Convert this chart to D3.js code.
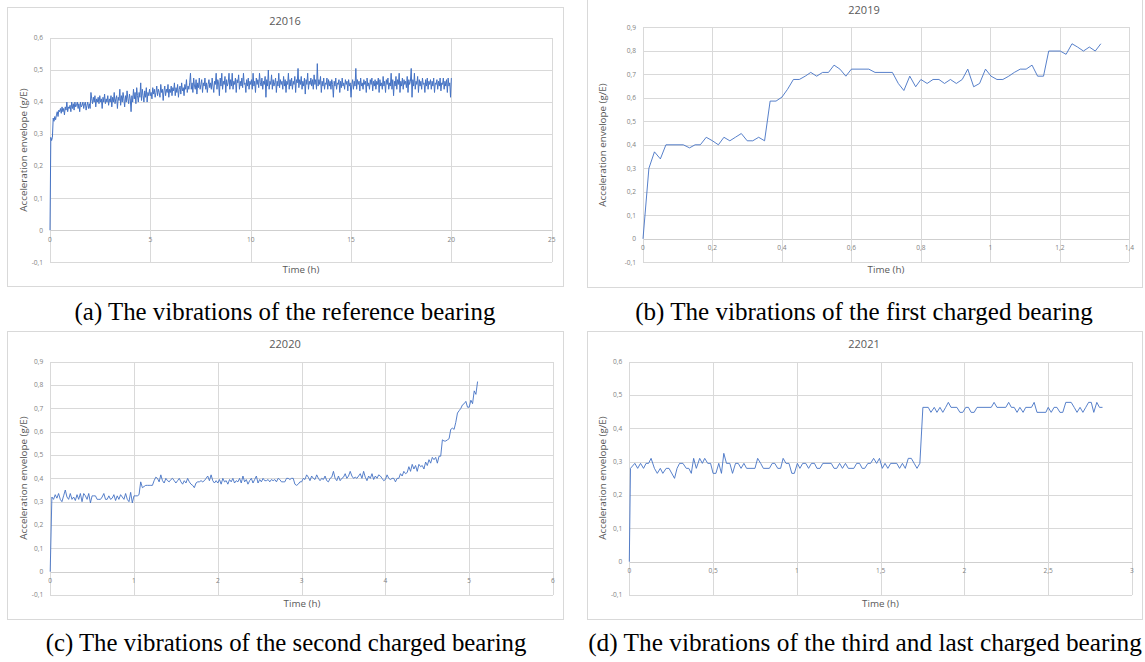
<!DOCTYPE html>
<html>
<head>
<meta charset="utf-8">
<script src="https://cdn.jsdelivr.net/npm/d3@7"></script>
<style>
  html, body { margin: 0; padding: 0; background: #fff; }
  svg { display: block; }
</style>
</head>
<body>
<svg id="fig" width="1145" height="662"></svg>
<script>
// ---------------------------------------------------------------
// Acceleration envelope (g/E) logged over time for four bearings
// ---------------------------------------------------------------

// 22016 (reference bearing): fixed logging interval, values in g/E
const ref22016StepH = 0.04;
const ref22016Values = [
  0, 0.29, 0.28, 0.29, 0.35, 0.34, 0.355, 0.345, 0.36, 0.37, 0.355, 0.375, 0.37, 0.38, 0.365, 0.385, 0.37, 0.38, 0.36, 0.385, 0.375, 0.40, 0.37, 0.385, 0.38,
  0.39, 0.37, 0.40, 0.38, 0.395, 0.375, 0.40, 0.385, 0.39, 0.40, 0.38, 0.395, 0.37, 0.40, 0.385, 0.39, 0.40, 0.38, 0.395, 0.40, 0.375, 0.39, 0.40, 0.38, 0.395,
  0.38, 0.43, 0.41, 0.395, 0.415, 0.40, 0.42, 0.385, 0.41, 0.40, 0.415, 0.395, 0.42, 0.40, 0.41, 0.38, 0.415, 0.40, 0.425, 0.395, 0.41, 0.40, 0.42, 0.39, 0.41,
  0.40, 0.42, 0.385, 0.415, 0.40, 0.43, 0.395, 0.41, 0.42, 0.38, 0.415, 0.405, 0.44, 0.39, 0.42, 0.40, 0.43, 0.41, 0.385, 0.42, 0.40, 0.435, 0.41, 0.395, 0.425,
  0.41, 0.37, 0.42, 0.40, 0.44, 0.41, 0.43, 0.395, 0.445, 0.42, 0.40, 0.43, 0.415, 0.46, 0.405, 0.44, 0.42, 0.40, 0.435, 0.415, 0.445, 0.40, 0.43, 0.42, 0.44,
  0.42, 0.43, 0.41, 0.445, 0.425, 0.44, 0.415, 0.43, 0.45, 0.42, 0.44, 0.43, 0.415, 0.455, 0.43, 0.44, 0.405, 0.435, 0.45, 0.42, 0.44, 0.43, 0.455, 0.415, 0.44,
  0.43, 0.45, 0.42, 0.445, 0.435, 0.46, 0.42, 0.445, 0.43, 0.455, 0.415, 0.44, 0.45, 0.425, 0.46, 0.435, 0.445, 0.42, 0.455, 0.44, 0.47, 0.43, 0.45, 0.44, 0.46,
  0.49, 0.44, 0.46, 0.43, 0.475, 0.45, 0.44, 0.47, 0.425, 0.46, 0.445, 0.475, 0.44, 0.455, 0.47, 0.43, 0.46, 0.45, 0.475, 0.44, 0.46, 0.43, 0.455, 0.47, 0.445,
  0.46, 0.44, 0.475, 0.45, 0.43, 0.465, 0.455, 0.49, 0.44, 0.47, 0.46, 0.42, 0.475, 0.45, 0.49, 0.44, 0.465, 0.455, 0.48, 0.43, 0.47, 0.45, 0.46, 0.49, 0.44,
  0.47, 0.45, 0.49, 0.44, 0.465, 0.455, 0.475, 0.43, 0.47, 0.46, 0.485, 0.44, 0.465, 0.45, 0.475, 0.445, 0.49, 0.455, 0.46, 0.43, 0.47, 0.45, 0.475, 0.44, 0.465,
  0.455, 0.47, 0.44, 0.49, 0.45, 0.465, 0.43, 0.475, 0.455, 0.47, 0.445, 0.49, 0.46, 0.45, 0.475, 0.44, 0.465, 0.455, 0.48, 0.415, 0.47, 0.45, 0.50, 0.44, 0.465,
  0.455, 0.485, 0.44, 0.47, 0.45, 0.46, 0.475, 0.43, 0.465, 0.45, 0.49, 0.445, 0.47, 0.455, 0.465, 0.44, 0.48, 0.45, 0.47, 0.43, 0.465, 0.455, 0.49, 0.44, 0.47,
  0.45, 0.475, 0.44, 0.465, 0.455, 0.48, 0.43, 0.47, 0.46, 0.505, 0.445, 0.47, 0.455, 0.48, 0.44, 0.465, 0.45, 0.475, 0.425, 0.47, 0.455, 0.49, 0.44, 0.465, 0.455,
  0.475, 0.45, 0.47, 0.44, 0.485, 0.455, 0.47, 0.44, 0.52, 0.45, 0.47, 0.455, 0.48, 0.43, 0.465, 0.45, 0.475, 0.44, 0.46, 0.455, 0.475, 0.44, 0.47, 0.45, 0.465,
  0.44, 0.47, 0.455, 0.415, 0.465, 0.45, 0.475, 0.44, 0.46, 0.455, 0.47, 0.43, 0.465, 0.445, 0.475, 0.45, 0.46, 0.44, 0.47, 0.455, 0.465, 0.435, 0.47, 0.45, 0.46,
  0.415, 0.455, 0.47, 0.44, 0.465, 0.45, 0.505, 0.44, 0.47, 0.455, 0.465, 0.435, 0.475, 0.45, 0.46, 0.44, 0.47, 0.455, 0.465, 0.43, 0.475, 0.45, 0.46, 0.44, 0.47,
  0.455, 0.475, 0.435, 0.465, 0.45, 0.47, 0.44, 0.465, 0.455, 0.475, 0.43, 0.47, 0.45, 0.46, 0.44, 0.48, 0.45, 0.465, 0.43, 0.47, 0.455, 0.475, 0.44, 0.46, 0.45,
  0.49, 0.44, 0.47, 0.42, 0.465, 0.45, 0.48, 0.44, 0.47, 0.455, 0.49, 0.43, 0.465, 0.45, 0.475, 0.44, 0.47, 0.455, 0.465, 0.445, 0.48, 0.43, 0.47, 0.455, 0.465,
  0.505, 0.415, 0.47, 0.45, 0.49, 0.44, 0.465, 0.455, 0.48, 0.43, 0.47, 0.45, 0.465, 0.44, 0.475, 0.455, 0.46, 0.43, 0.47, 0.45, 0.475, 0.44, 0.465, 0.455, 0.47,
  0.44, 0.465, 0.45, 0.475, 0.43, 0.46, 0.455, 0.47, 0.44, 0.465, 0.45, 0.475, 0.435, 0.46, 0.455, 0.475, 0.44, 0.465, 0.45, 0.47, 0.43, 0.475, 0.45, 0.46, 0.415,
  0.475
];

// 22019 (first charged bearing): [time h, g/E]
const run22019 = [
  [0,0],[0.017,0.30],[0.033,0.37],[0.05,0.34],[0.066,0.40],[0.116,0.40],[0.134,0.387],[0.15,0.40],[0.165,0.40],
  [0.182,0.432],[0.2,0.417],[0.217,0.40],[0.233,0.432],[0.25,0.417],[0.266,0.432],[0.283,0.448],[0.3,0.417],
  [0.316,0.417],[0.333,0.432],[0.35,0.417],[0.366,0.586],[0.383,0.586],[0.4,0.603],[0.416,0.636],[0.433,0.678],
  [0.45,0.678],[0.467,0.692],[0.483,0.708],[0.5,0.692],[0.517,0.708],[0.534,0.708],[0.55,0.739],[0.567,0.722],
  [0.584,0.692],[0.6,0.722],[0.65,0.722],[0.668,0.708],[0.718,0.708],[0.735,0.661],[0.751,0.631],[0.768,0.692],
  [0.785,0.647],[0.8,0.678],[0.818,0.661],[0.835,0.678],[0.852,0.678],[0.868,0.661],[0.885,0.678],[0.902,0.661],
  [0.919,0.678],[0.935,0.722],[0.952,0.647],[0.969,0.661],[0.986,0.722],[1.002,0.692],[1.019,0.678],[1.036,0.678],
  [1.053,0.692],[1.069,0.708],[1.086,0.722],[1.103,0.722],[1.12,0.739],[1.136,0.692],[1.153,0.692],[1.168,0.799],
  [1.201,0.799],[1.218,0.785],[1.235,0.830],[1.251,0.816],[1.268,0.799],[1.285,0.816],[1.302,0.799],[1.318,0.830]
];

// 22020 (second charged bearing): fixed logging interval, values in g/E
const run22020StepH = 0.02;
const run22020Values = [
  0, 0.32, 0.31, 0.33, 0.315, 0.335, 0.31, 0.30, 0.325, 0.35, 0.32, 0.31, 0.335, 0.31, 0.32, 0.305, 0.33, 0.31, 0.335, 0.30, 0.335, 0.325, 0.31, 0.335, 0.295,
  0.325, 0.325, 0.325, 0.31, 0.31, 0.31, 0.32, 0.335, 0.31, 0.31, 0.325, 0.31, 0.315, 0.33, 0.305, 0.325, 0.31, 0.33, 0.32, 0.31, 0.335, 0.31, 0.30, 0.34, 0.295,
  0.325, 0.325, 0.325, 0.33, 0.385, 0.36, 0.365, 0.37, 0.37, 0.37, 0.37, 0.37, 0.39, 0.405, 0.40, 0.385, 0.415, 0.39, 0.38, 0.40, 0.39, 0.385, 0.395, 0.40, 0.39,
  0.38, 0.39, 0.40, 0.385, 0.375, 0.39, 0.38, 0.40, 0.385, 0.375, 0.37, 0.36, 0.38, 0.385, 0.385, 0.39, 0.385, 0.39, 0.40, 0.41, 0.39, 0.415, 0.39, 0.38, 0.39,
  0.38, 0.395, 0.375, 0.40, 0.385, 0.39, 0.375, 0.395, 0.385, 0.40, 0.38, 0.39, 0.385, 0.40, 0.38, 0.41, 0.385, 0.395, 0.375, 0.39, 0.40, 0.38, 0.395, 0.41, 0.38,
  0.395, 0.385, 0.40, 0.39, 0.39, 0.395, 0.385, 0.395, 0.39, 0.395, 0.385, 0.40, 0.395, 0.385, 0.385, 0.385, 0.40, 0.40, 0.395, 0.40, 0.40, 0.375, 0.37, 0.375, 0.385,
  0.385, 0.40, 0.395, 0.415, 0.405, 0.39, 0.41, 0.40, 0.395, 0.415, 0.40, 0.39, 0.40, 0.395, 0.41, 0.39, 0.385, 0.40, 0.405, 0.43, 0.40, 0.39, 0.41, 0.39, 0.40,
  0.405, 0.42, 0.40, 0.41, 0.43, 0.41, 0.40, 0.405, 0.40, 0.41, 0.42, 0.40, 0.43, 0.405, 0.39, 0.41, 0.40, 0.42, 0.395, 0.41, 0.40, 0.415, 0.41, 0.40, 0.39,
  0.395, 0.415, 0.40, 0.395, 0.40, 0.40, 0.385, 0.40, 0.40, 0.42, 0.41, 0.43, 0.42, 0.425, 0.45, 0.43, 0.46, 0.44, 0.455, 0.43, 0.46, 0.45, 0.455, 0.44, 0.47,
  0.455, 0.48, 0.465, 0.49, 0.48, 0.49, 0.465, 0.495, 0.495, 0.565, 0.56, 0.56, 0.565, 0.57, 0.61, 0.615, 0.61, 0.64, 0.68, 0.69, 0.70, 0.715, 0.72, 0.73, 0.705,
  0.705, 0.735, 0.72, 0.775, 0.76, 0.815
];

// 22021 (third and last charged bearing): [time h, g/E]
const run22021 = [
  [0,0],[0.007,0.28],[0.033,0.295],[0.05,0.28],[0.067,0.295],[0.085,0.28],[0.1,0.295],[0.115,0.295],[0.13,0.31],
  [0.15,0.28],[0.167,0.265],[0.185,0.28],[0.2,0.265],[0.22,0.28],[0.237,0.28],[0.27,0.25],[0.285,0.28],[0.3,0.295],
  [0.32,0.295],[0.34,0.28],[0.355,0.28],[0.37,0.265],[0.384,0.31],[0.4,0.28],[0.42,0.31],[0.436,0.295],[0.45,0.31],
  [0.468,0.295],[0.485,0.295],[0.5,0.265],[0.517,0.265],[0.534,0.295],[0.55,0.265],[0.564,0.325],[0.58,0.295],
  [0.6,0.295],[0.616,0.265],[0.634,0.295],[0.65,0.295],[0.667,0.28],[0.684,0.295],[0.7,0.28],[0.75,0.28],[0.766,0.31],
  [0.784,0.295],[0.8,0.28],[0.836,0.28],[0.853,0.295],[0.868,0.295],[0.886,0.28],[0.903,0.28],[0.918,0.31],[0.935,0.295],
  [0.953,0.295],[0.97,0.265],[0.985,0.265],[1.003,0.295],[1.018,0.28],[1.035,0.295],[1.053,0.295],[1.07,0.28],
  [1.087,0.295],[1.105,0.295],[1.12,0.28],[1.138,0.28],[1.155,0.295],[1.205,0.295],[1.222,0.28],[1.238,0.28],
  [1.255,0.295],[1.272,0.28],[1.29,0.295],[1.307,0.28],[1.34,0.28],[1.357,0.295],[1.374,0.295],[1.39,0.28],[1.405,0.28],
  [1.424,0.295],[1.44,0.295],[1.458,0.31],[1.476,0.295],[1.493,0.31],[1.51,0.28],[1.526,0.295],[1.543,0.28],[1.56,0.295],
  [1.596,0.295],[1.613,0.28],[1.63,0.295],[1.647,0.28],[1.665,0.31],[1.683,0.31],[1.7,0.295],[1.717,0.28],[1.734,0.295],
  [1.752,0.463],[1.784,0.463],[1.8,0.448],[1.82,0.463],[1.836,0.448],[1.854,0.463],[1.871,0.448],[1.888,0.463],
  [1.904,0.478],[1.92,0.463],[1.955,0.463],[1.973,0.448],[1.99,0.448],[2.008,0.463],[2.024,0.463],[2.04,0.448],
  [2.058,0.448],[2.075,0.463],[2.16,0.463],[2.177,0.478],[2.194,0.463],[2.247,0.463],[2.264,0.478],[2.28,0.463],
  [2.297,0.463],[2.314,0.448],[2.331,0.463],[2.35,0.448],[2.366,0.463],[2.4,0.463],[2.416,0.478],[2.433,0.448],
  [2.486,0.448],[2.5,0.463],[2.518,0.448],[2.535,0.463],[2.552,0.463],[2.57,0.448],[2.587,0.448],[2.605,0.478],
  [2.637,0.478],[2.655,0.463],[2.672,0.448],[2.69,0.463],[2.707,0.448],[2.724,0.463],[2.741,0.478],[2.757,0.478],
  [2.772,0.448],[2.79,0.478],[2.806,0.463],[2.824,0.463]
];

const chartTitles = ["22016", "22019", "22020", "22021"];
const captions = [
  "(a) The vibrations of the reference bearing",
  "(b) The vibrations of the first charged bearing",
  "(c) The vibrations of the second charged bearing",
  "(d) The vibrations of the third and last charged bearing"
];
const xAxisTitle = "Time (h)";
const yAxisTitle = "Acceleration envelope (g/E)";
const xTickSteps = [5, 0.2, 1, 0.5];
const xMaxima = [25, 1.4, 6, 3];
const yMaxima = [0.6, 0.9, 0.9, 0.6];
const yMinimum = -0.1;

// Series as {t, v} records
const series = [
  ref22016Values.map((v, i) => ({ t: i * ref22016StepH, v })),
  run22019.map(([t, v]) => ({ t, v })),
  run22020Values.map((v, i) => ({ t: i * run22020StepH, v })),
  run22021.map(([t, v]) => ({ t, v }))
];

// Panel geometry: chart frame, plot area, title / axis-title anchors, caption
const layout = [
  { frame: [7, 7, 563, 286],       plot: [50, 38, 551.7, 262.3],   title: [285, 21],  xt: [301, 270],  yt: [24, 150],  cap: [285, 320, 421], lw: 1 },
  { frame: [586.5, -3.5, 1141.5, 286], plot: [643, 27.3, 1129.3, 262.3], title: [864, 10], xt: [886, 270], yt: [603, 145], cap: [864, 320, 458], lw: 0.9 },
  { frame: [7, 331, 563, 619],     plot: [50.2, 361.7, 553, 595],  title: [285, 344], xt: [302, 604],  yt: [24, 478],  cap: [286, 651, 481], lw: 0.9 },
  { frame: [586.5, 331, 1141.5, 619], plot: [629.3, 361.7, 1132, 595], title: [864, 344], xt: [880.5, 604], yt: [603, 478], cap: [865, 651, 554], lw: 0.9 }
];

const COLORS = { grid: "#d9d9d9", frame: "#d9d9d9", text: "#595959", tick: "#7f7f7f", line: "#4472c4" };
const chartFont = "'Open Sans', 'Noto Sans', sans-serif";
const captionFont = "'Liberation Serif', 'DejaVu Serif', serif";

const locale = d3.formatLocale({ decimal: ",", thousands: " ", grouping: [3], currency: ["", ""], minus: "-" });
const fmt = locale.format(".1~f");

const svg = d3.select("#fig");

layout.forEach((L, k) => {
  const g = svg.append("g");
  const [fx0, fy0, fx1, fy1] = L.frame;
  const [px0, pyTop, px1, pyBot] = L.plot;

  const x = d3.scaleLinear().domain([0, xMaxima[k]]).range([px0, px1]);
  const y = d3.scaleLinear().domain([yMinimum, yMaxima[k]]).range([pyBot, pyTop]);

  const nX = Math.round(xMaxima[k] / xTickSteps[k]);
  const xTicks = d3.range(0, nX + 1).map(i => +(i * xTickSteps[k]).toFixed(4));
  const yTicks = d3.range(Math.round(yMinimum * 10), Math.round(yMaxima[k] * 10) + 1).map(i => i / 10);

  // chart frame
  g.append("rect")
    .attr("x", Math.round(fx0) + 0.5).attr("y", Math.round(fy0) + 0.5)
    .attr("width", Math.round(fx1 - fx0)).attr("height", Math.round(fy1 - fy0))
    .attr("fill", "#fff").attr("stroke", COLORS.frame).attr("stroke-width", 1);

  // gridlines
  const grid = g.append("g").attr("shape-rendering", "crispEdges");
  grid.selectAll("line.h").data(yTicks).join("line")
    .attr("x1", px0).attr("x2", x(xMaxima[k]))
    .attr("y1", d => Math.round(y(d)) + 0.5).attr("y2", d => Math.round(y(d)) + 0.5)
    .attr("stroke", d => d === 0 ? "#cfcfcf" : COLORS.grid).attr("stroke-width", 1);
  grid.selectAll("line.v").data(xTicks).join("line")
    .attr("y1", pyTop).attr("y2", pyBot)
    .attr("x1", d => Math.round(x(d)) + 0.5).attr("x2", d => Math.round(x(d)) + 0.5)
    .attr("stroke", COLORS.grid).attr("stroke-width", 1);

  // y tick labels
  g.append("g").selectAll("text").data(yTicks).join("text")
    .attr("x", px0 - 7).attr("y", d => y(d)).attr("dy", "0.35em")
    .attr("text-anchor", "end")
    .attr("font-family", chartFont).attr("font-size", 6.6).attr("fill", COLORS.tick)
    .text(d => fmt(d));

  // x tick labels sit just under the zero line
  g.append("g").selectAll("text").data(xTicks).join("text")
    .attr("x", d => x(d)).attr("y", y(0) + 9).attr("dy", "0.35em")
    .attr("text-anchor", "middle")
    .attr("font-family", chartFont).attr("font-size", 6.6).attr("fill", COLORS.tick)
    .text(d => fmt(d));

  // data line
  const line = d3.line().x(d => x(d.t)).y(d => y(d.v));
  g.append("path")
    .datum(series[k])
    .attr("d", line)
    .attr("fill", "none")
    .attr("stroke", COLORS.line)
    .attr("stroke-width", L.lw)
    .attr("stroke-linejoin", "round");

  // chart title
  g.append("text")
    .attr("x", L.title[0]).attr("y", L.title[1]).attr("dy", "0.35em")
    .attr("text-anchor", "middle")
    .attr("font-family", chartFont).attr("font-size", 11).attr("fill", COLORS.text)
    .text(chartTitles[k]);

  // axis titles
  g.append("text")
    .attr("x", L.xt[0]).attr("y", L.xt[1]).attr("dy", "0.35em")
    .attr("text-anchor", "middle")
    .attr("font-family", chartFont).attr("font-size", 9.8).attr("fill", COLORS.text)
    .text(xAxisTitle);
  g.append("text")
    .attr("transform", `translate(${L.yt[0]},${L.yt[1]}) rotate(-90)`)
    .attr("dy", "0.35em")
    .attr("text-anchor", "middle")
    .attr("font-family", chartFont).attr("font-size", 9.8).attr("fill", COLORS.text)
    .text(yAxisTitle);

  // figure caption, sized to its measured width
  const cap = svg.append("text")
    .attr("x", L.cap[0]).attr("y", L.cap[1])
    .attr("text-anchor", "middle")
    .attr("font-family", captionFont).attr("font-size", 20).attr("fill", "#000")
    .text(captions[k]);
  const w = cap.node().getComputedTextLength();
  cap.attr("font-size", 20 * L.cap[2] / w);
});
</script>
</body>
</html>
